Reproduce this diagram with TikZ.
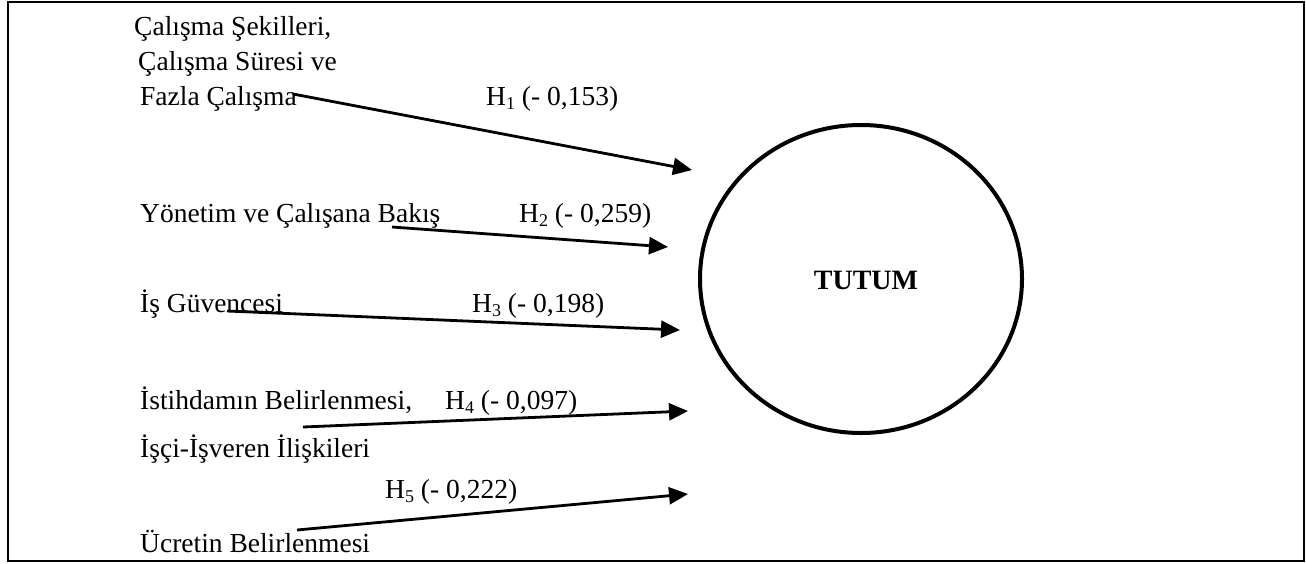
\documentclass[tikz,border=0pt]{standalone}
\usepackage{fontspec}
\setmainfont{Liberation Serif}
\usetikzlibrary{arrows.meta,shapes.geometric}
\newcommand{\sbs}[1]{\raisebox{-0.15em}{\fontsize{18}{18}\selectfont #1}}
\begin{document}
\begin{tikzpicture}[x=1pt,y=-1pt,
  lbl/.style={anchor=base west,inner sep=0pt,font=\fontsize{27.5}{32}\selectfont},
  arr/.style={line width=2.8pt,-{Triangle[length=19pt,width=17pt]}}]
\useasboundingbox (0,0) rectangle (1306,563);
\draw[line width=2.5pt] (8,2) rectangle (1304,561);
% ellipse
\node[draw,ellipse,line width=4pt,minimum width=322pt,minimum height=308pt,inner sep=0pt] (tutum) at (861,279) {};
\node[font=\fontsize{28}{32}\selectfont\bfseries] (tl) at (866,280) {TUTUM};
% labels
\node[lbl] (a1) at (134,35) {Çalışma Şekilleri,};
\node[lbl] (a2) at (138,70) {Çalışma Süresi ve};
\node[lbl] (a3) at (140,105) {Fazla Çalışma};
\node[lbl] (h1) at (486,105) {H\sbs{1}\ (- 0,153)};
\node[lbl] (b1) at (140,222) {Yönetim ve Çalışana Bakış};
\node[lbl] (h2) at (519,222) {H\sbs{2} (- 0,259)};
\node[lbl] (c1) at (140,312) {İş Güvencesi};
\node[lbl] (h3) at (472,312) {H\sbs{3} (- 0,198)};
\node[lbl] (d1) at (140,409) {İstihdamın Belirlenmesi,};
\node[lbl] (h4) at (445,409) {H\sbs{4} (- 0,097)};
\node[lbl] (d2) at (140,457) {İşçi-İşveren İlişkileri};
\node[lbl] (h5) at (385,498) {H\sbs{5} (- 0,222)};
\node[lbl] (e1) at (140,552) {Ücretin Belirlenmesi};
% arrow ends
\coordinate (s1) at (293,94);  \coordinate (t1) at (692,170);
\coordinate (s2) at (392,227); \coordinate (t2) at (668,247);
\coordinate (s3) at (227,311); \coordinate (t3) at (680,330);
\coordinate (s4) at (303,427); \coordinate (t4) at (688,411);
\coordinate (s5) at (297,530); \coordinate (t5) at (688,494);
\draw[arr] (s1) -- (t1);
\draw[arr] (s2) -- (t2);
\draw[arr] (s3) -- (t3);
\draw[arr] (s4) -- (t4);
\draw[arr] (s5) -- (t5);
\end{tikzpicture}
\end{document}
